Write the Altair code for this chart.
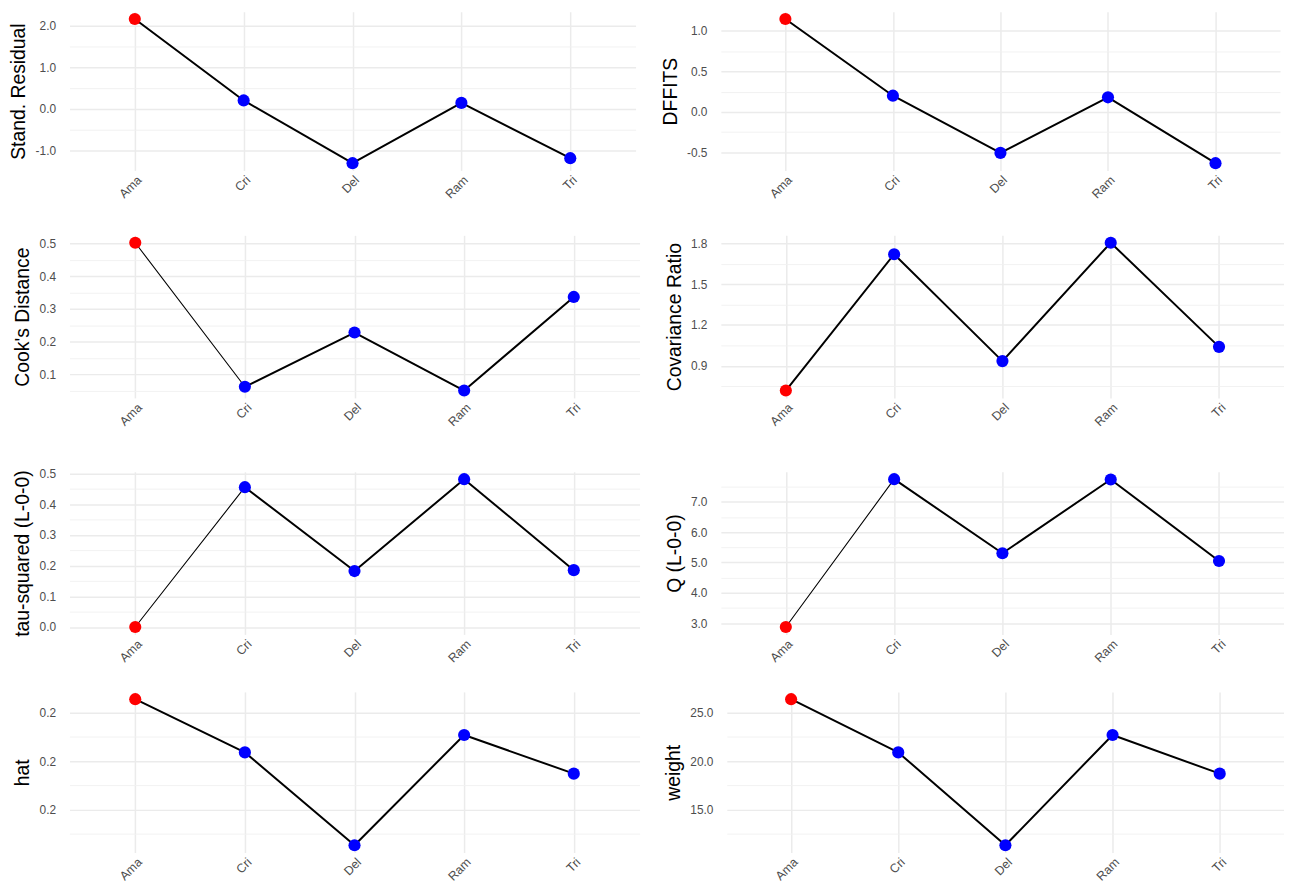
import altair as alt
import pandas as pd

# ---------------- data ----------------
studies = ["Ama", "Cri", "Del", "Ram", "Tri"]
influential = ["yes", "no", "no", "no", "no"]

stand_resid = [2.16, 0.20, -1.31, 0.14, -1.19]
dffits = [1.147, 0.20, -0.506, 0.18, -0.633]
cooks_d = [0.503, 0.062, 0.228, 0.0505, 0.337]
cov_ratio = [0.717, 1.722, 0.934, 1.807, 1.039]
tau2_del = [0.0, 0.455, 0.182, 0.481, 0.185]
q_del = [2.87, 7.75, 5.305, 7.74, 5.05]
hat = [0.264, 0.209, 0.113, 0.227, 0.187]
weight = [26.4, 20.9, 11.3, 22.7, 18.7]

# axis ticks (major labelled, minor grid only)
stand_ticks = [-1.0, 0.0, 1.0, 2.0]
stand_labels = ["-1.0", "0.0", "1.0", "2.0"]
stand_minor = [-0.5, 0.5, 1.5]
dffits_ticks = [-0.5, 0.0, 0.5, 1.0]
dffits_labels = ["-0.5", "0.0", "0.5", "1.0"]
dffits_minor = [-0.25, 0.25, 0.75]
cooks_ticks = [0.1, 0.2, 0.3, 0.4, 0.5]
cooks_labels = ["0.1", "0.2", "0.3", "0.4", "0.5"]
cooks_minor = [0.05, 0.15, 0.25, 0.35, 0.45]
cov_ticks = [0.9, 1.2, 1.5, 1.8]
cov_labels = ["0.9", "1.2", "1.5", "1.8"]
cov_minor = [0.75, 1.05, 1.35, 1.65]
tau_ticks = [0.0, 0.1, 0.2, 0.3, 0.4, 0.5]
tau_labels = ["0.0", "0.1", "0.2", "0.3", "0.4", "0.5"]
tau_minor = [0.05, 0.15, 0.25, 0.35, 0.45]
q_ticks = [3.0, 4.0, 5.0, 6.0, 7.0]
q_labels = ["3.0", "4.0", "5.0", "6.0", "7.0"]
q_minor = [3.5, 4.5, 5.5, 6.5, 7.5]
hat_ticks = [0.15, 0.2, 0.25]
hat_labels = ["0.2", "0.2", "0.2"]
hat_minor = [0.125, 0.175, 0.225]
weight_ticks = [15.0, 20.0, 25.0]
weight_labels = ["15.0", "20.0", "25.0"]
weight_minor = [12.5, 17.5, 22.5]

# line widths of the four segments in each panel
thick = [2.0, 2.0, 2.0, 2.0]
thin_first = [1.1, 2.0, 2.0, 2.0]

FONT = "Liberation Sans"
GRID = "#EBEBEB"


def panel(title, values, ticks, tick_labels, minor, seg_w, width, height):
    lo, hi = min(values), max(values)
    r = hi - lo
    dom = [lo - 0.05 * r, hi + 0.05 * r]
    minor_in = [m for m in minor if dom[0] <= m <= dom[1]]
    pts = pd.DataFrame({"study": studies, "value": values, "infl": influential})
    seg = pd.DataFrame({
        "study": studies[:-1], "study2": studies[1:],
        "value": values[:-1], "value2": values[1:], "w": seg_w,
    })
    xs = alt.Scale(type="point", domain=studies, padding=0.6)
    ys = alt.Scale(domain=dom, nice=False, zero=False)
    label_expr = ("[" + ",".join("'%s'" % l for l in tick_labels) + "][indexof(["
                  + ",".join(repr(float(t)) for t in ticks) + "], datum.value)]")
    x_axis = alt.Axis(title=None, grid=True)
    seg_layer = alt.Chart(seg).mark_rule(color="black", strokeCap="round").encode(
        x=alt.X("study:N", scale=xs, axis=x_axis),
        x2="study2",
        y=alt.Y("value:Q", scale=ys,
                axis=alt.Axis(values=minor_in, orient="right", grid=True,
                              gridColor="#F0F0F0", gridWidth=0.9, labels=False,
                              ticks=False, domain=False, title=None)),
        y2="value2",
        strokeWidth=alt.StrokeWidth("w:Q", scale=None),
    )
    pt_layer = alt.Chart(pts).mark_point(filled=True, size=150, opacity=1).encode(
        x=alt.X("study:N", scale=xs, axis=x_axis),
        y=alt.Y("value:Q", scale=ys,
                axis=alt.Axis(values=ticks, labelExpr=label_expr, title=title,
                              grid=True, gridColor=GRID, gridWidth=1.5)),
        color=alt.Color("infl:N",
                        scale=alt.Scale(domain=["yes", "no"], range=["#FF0000", "#0000FF"]),
                        legend=None),
    )
    return (alt.layer(seg_layer, pt_layer)
            .resolve_axis(y="independent")
            .properties(width=width, height=height))


p1 = panel("Stand. Residual", stand_resid, stand_ticks, stand_labels, stand_minor, thick, 571, 160)
p2 = panel("DFFITS", dffits, dffits_ticks, dffits_labels, dffits_minor, thick, 564, 160)
p3 = panel("Cook's Distance", cooks_d, cooks_ticks, cooks_labels, cooks_minor, thin_first, 575, 164)
p4 = panel("Covariance Ratio", cov_ratio, cov_ticks, cov_labels, cov_minor, thick, 568, 164)
p5 = panel("tau-squared (L-0-0)", tau2_del, tau_ticks, tau_labels, tau_minor, thin_first, 575, 164)
p6 = panel("Q (L-0-0)", q_del, q_ticks, q_labels, q_minor, thin_first, 568, 164)
p7 = panel("hat", hat, hat_ticks, hat_labels, hat_minor, thick, 575, 162)
p8 = panel("weight", weight, weight_ticks, weight_labels, weight_minor, thick, 562, 162)

row1 = alt.hconcat(p1, p2, spacing=24)
row2 = alt.hconcat(p3, p4, spacing=24)
row3 = alt.hconcat(p5, p6, spacing=24)
row4 = alt.hconcat(p7, p8, spacing=24)

mid = alt.vconcat(row2, row3, spacing=38.5)
upper = alt.vconcat(row1, mid, spacing=34.5)

chart = (
    alt.vconcat(upper, row4, spacing=27)
    .properties(padding=0, background="white")
    .configure_view(strokeWidth=0)
    .configure_axis(
        ticks=False, tickSize=0, domain=False,
        gridColor=GRID, gridWidth=1.5,
        labelColor="#4D4D4D", labelFontSize=12, labelFont=FONT,
        titleFont=FONT, titleFontSize=19.5, titleFontWeight="normal", titleColor="black",
    )
    .configure_axisX(labelAngle=-45, labelPadding=3, labelFontSize=12.5)
    .configure_axisY(labelPadding=14, titlePadding=6.5)
)

chart.save("out.html", embed_options={"renderer": "svg", "actions": False})
